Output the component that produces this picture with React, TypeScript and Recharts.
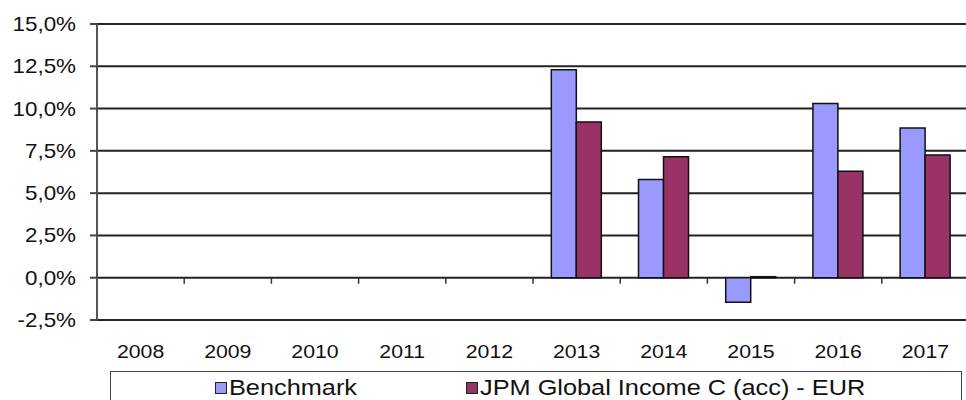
import { Bar, BarChart, CartesianGrid, Legend, XAxis, YAxis } from "recharts";

const years = ["2008", "2009", "2010", "2011", "2012", "2013", "2014", "2015", "2016", "2017"];
const benchmark = [null, null, null, null, null, 12.3, 5.8, -1.45, 10.3, 8.85];
const jpm = [null, null, null, null, null, 9.2, 7.15, 0.06, 6.3, 7.25];
const yTicks = [-2.5, 0, 2.5, 5, 7.5, 10, 12.5, 15];
const seriesNames = ["Benchmark", "JPM Global Income C (acc) - EUR"];
const seriesColors = ["#9999FF", "#993366"];

const data = years.map((year, i) => ({ year, benchmark: benchmark[i], jpm: jpm[i] }));

const W = 969;
const H = 400;
const TOP = 24;
const PLOT_BOTTOM = 320;
const Y_MIN = -2.5;
const Y_MAX = 15;
const zeroY = TOP + ((PLOT_BOTTOM - TOP) * Y_MAX) / (Y_MAX - Y_MIN);
const STRETCH = 1.12;
const FONT = "'Liberation Sans', Arial, sans-serif";

const fmt = (v: number) => v.toFixed(1).replace(".", ",") + "%";

function YTick(props: any) {
  const { y, payload } = props;
  return (
    <g>
      <line x1={90} x2={97} y1={y} y2={y} stroke="#444" strokeWidth={2} />
      <text
        transform={`translate(76,${y + 7}) scale(${STRETCH},1)`}
        textAnchor="end"
        fontSize={20}
        fontFamily={FONT}
        fill="#111"
      >
        {fmt(payload.value)}
      </text>
    </g>
  );
}

function XTick(props: any) {
  const { x, y, payload, index } = props;
  const half = payload.offset ?? (W - 97) / years.length / 2;
  const bx = x - half;
  return (
    <g>
      {index > 0 && <line x1={bx} x2={bx} y1={zeroY} y2={zeroY + 6} stroke="#333" strokeWidth={1.5} />}
      <text
        transform={`translate(${x},${y + 38}) scale(${STRETCH},1)`}
        textAnchor="middle"
        fontSize={19}
        fontFamily={FONT}
        fill="#111"
      >
        {payload.value}
      </text>
    </g>
  );
}

function LegendBox() {
  const item = (i: number, left: number) => (
    <div
      key={i}
      style={{ position: "absolute", left, top: 5, height: 22, display: "flex", alignItems: "center", whiteSpace: "nowrap" }}
    >
      <span
        style={{
          display: "inline-block",
          width: 10,
          height: 10,
          background: seriesColors[i],
          border: "1px solid #222",
          marginRight: 2,
        }}
      />
      <span
        style={{
          display: "inline-block",
          fontSize: 22,
          lineHeight: "22px",
          fontFamily: FONT,
          color: "#111",
          transform: "scaleX(1.15)",
          transformOrigin: "left center",
        }}
      >
        {seriesNames[i]}
      </span>
    </div>
  );
  return (
    <div
      style={{
        position: "relative",
        width: 850,
        height: 40,
        border: "1.5px solid #444",
        background: "#fff",
      }}
    >
      {item(0, 104)}
      {item(1, 355)}
    </div>
  );
}

export default function App() {
  return (
    <div style={{ position: "absolute", left: 0, top: 0, width: 966, height: 400, overflow: "hidden", background: "#fff" }}>
      <BarChart
        width={W}
        height={H}
        data={data}
        margin={{ top: TOP, right: 0, bottom: 0, left: 0 }}
        barCategoryGap="21%"
        barGap={0}
      >
        <CartesianGrid vertical={false} stroke="#222" strokeWidth={2} />
        <XAxis
          dataKey="year"
          height={H - PLOT_BOTTOM}
          axisLine={false}
          tickLine={false}
          tickSize={0}
          tickMargin={0}
          interval={0}
          tick={<XTick />}
        />
        <YAxis
          width={97}
          domain={[Y_MIN, Y_MAX]}
          ticks={yTicks}
          interval={0}
          axisLine={{ stroke: "#555", strokeWidth: 2 }}
          tickLine={false}
          tick={<YTick />}
        />
        <Legend
          layout="horizontal"
          verticalAlign="middle"
          align="center"
          wrapperStyle={{ left: 110, top: 371, width: 853 }}
          content={() => <LegendBox />}
        />
        <Bar dataKey="benchmark" name={seriesNames[0]} fill={seriesColors[0]} stroke="#111" strokeWidth={1.5} isAnimationActive={false} />
        <Bar dataKey="jpm" name={seriesNames[1]} fill={seriesColors[1]} stroke="#111" strokeWidth={1.5} isAnimationActive={false} />
      </BarChart>
    </div>
  );
}
